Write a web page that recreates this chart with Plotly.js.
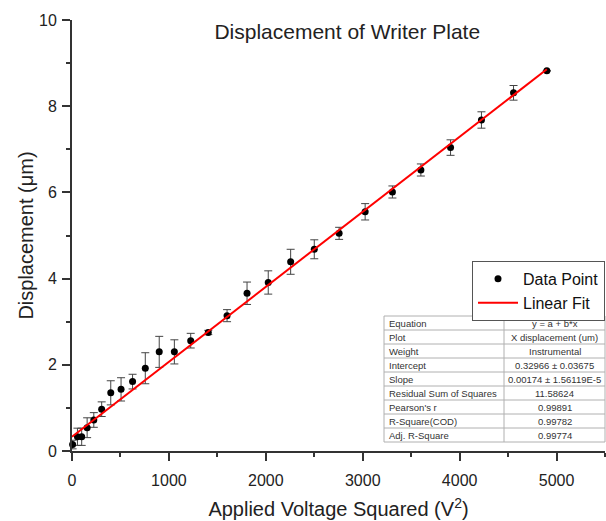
<!DOCTYPE html>
<html>
<head>
<meta charset="utf-8">
<script src="https://cdn.plot.ly/plotly-3.0.1.min.js"></script>
<style>html,body{margin:0;padding:0;background:#fff;}#chart{width:606px;height:521px;}</style>
</head>
<body>
<div id="chart"></div>
<script>
// Applied voltage squared (V^2)
const voltageSq = [6.25, 56.25, 100, 156.25, 225, 306.25, 400, 506.25, 625, 756.25, 900, 1056.25, 1225, 1406.25, 1600, 1806.25, 2025, 2256.25, 2500, 2756.25, 3025, 3306.25, 3600, 3906.25, 4225, 4556.25, 4900];
// Displacement (um)
const displacement = [0.15, 0.33, 0.33, 0.54, 0.72, 0.97, 1.35, 1.43, 1.61, 1.92, 2.30, 2.30, 2.56, 2.75, 3.14, 3.66, 3.91, 4.39, 4.68, 5.05, 5.55, 6.01, 6.52, 7.04, 7.68, 8.31, 8.82];
// Error bar half-lengths (um)
const errors = [0.10, 0.20, 0.20, 0.23, 0.17, 0.17, 0.28, 0.27, 0.17, 0.36, 0.36, 0.28, 0.17, 0.05, 0.14, 0.26, 0.27, 0.29, 0.22, 0.14, 0.19, 0.14, 0.14, 0.18, 0.19, 0.17, 0];
// Linear fit parameters (from the chart)
const fitIntercept = 0.32966;
const fitSlope = 0.00174;
const fitXRange = [0, 4900];
// Fit statistics table
const tableLabels = ["Equation", "Plot", "Weight", "Intercept", "Slope", "Residual Sum of Squares", "Pearson's r", "R-Square(COD)", "Adj. R-Square"];
const tableValues = ["y = a + b*x", "X displacement (um)", "Instrumental", "0.32966 ± 0.03675", "0.00174 ± 1.56119E-5", "11.58624", "0.99891", "0.99782", "0.99774"];
const xTicks = [0, 1000, 2000, 3000, 4000, 5000];
const yTicks = [0, 2, 4, 6, 8, 10];

const fitY = fitXRange.map(x => fitIntercept + fitSlope * x);

const W = 606, H = 521, ML = 72, MR = 1, MT = 20, MB = 70;
const PW = W - ML - MR, PH = H - MT - MB;
const px2x = p => (p - ML) / PW;
const py2y = p => (H - MB - p) / PH;

const font = 'Arial, Liberation Sans, sans-serif';

// Table geometry (pixels)
const tLeft = 384, tRight = 605, tDiv = 504, tTop = 316, rowH = 14;
const tBottom = tTop + rowH * tableLabels.length;
const shapes = [];
const annotations = [];
const gridLine = {color: '#b0b0b0', width: 1};
shapes.push({type: 'rect', xref: 'paper', yref: 'paper', x0: px2x(tLeft), x1: px2x(tRight), y0: py2y(tBottom), y1: py2y(tTop), fillcolor: '#fff', line: gridLine, layer: 'above'});
shapes.push({type: 'line', xref: 'paper', yref: 'paper', x0: px2x(tDiv), x1: px2x(tDiv), y0: py2y(tBottom), y1: py2y(tTop), line: gridLine, layer: 'above'});
for (let i = 1; i < tableLabels.length; i++) {
  const yy = py2y(tTop + rowH * i);
  shapes.push({type: 'line', xref: 'paper', yref: 'paper', x0: px2x(tLeft), x1: px2x(tRight), y0: yy, y1: yy, line: gridLine, layer: 'above'});
}
tableLabels.forEach((lab, i) => {
  const yc = py2y(tTop + rowH * i + rowH / 2);
  annotations.push({xref: 'paper', yref: 'paper', x: px2x(tLeft + 3), y: yc, xanchor: 'left', yanchor: 'middle', text: lab, showarrow: false, font: {family: font, size: 9.5, color: '#333'}});
  annotations.push({xref: 'paper', yref: 'paper', x: px2x((tDiv + tRight) / 2), y: yc, xanchor: 'center', yanchor: 'middle', text: tableValues[i], showarrow: false, font: {family: font, size: 9.5, color: '#333'}});
});

const dataTrace = {
  type: 'scatter', mode: 'markers', name: 'Data Point',
  x: voltageSq, y: displacement,
  marker: {color: '#000', size: 7},
  error_y: {type: 'data', array: errors, visible: true, color: '#444', thickness: 1, width: 4},
  cliponaxis: false
};
const fitTrace = {
  type: 'scatter', mode: 'lines', name: 'Linear Fit',
  x: fitXRange, y: fitY,
  line: {color: '#ff0000', width: 2}
};

const layout = {
  width: W, height: H,
  margin: {l: ML, r: MR, t: MT, b: MB},
  paper_bgcolor: '#fff', plot_bgcolor: '#fff',
  font: {family: font, color: '#222'},
  title: {text: 'Displacement of Writer Plate', font: {family: font, size: 21, color: '#222'}, x: 0.573, xanchor: 'center', y: 0.94, yanchor: 'middle'},
  showlegend: true,
  legend: {x: 1, xanchor: 'right', y: 0.441, yanchor: 'top', bordercolor: '#555', borderwidth: 1, bgcolor: '#fff', itemwidth: 40, font: {family: font, size: 16, color: '#111'}, tracegroupgap: 0},
  shapes: shapes,
  annotations: annotations,
  xaxis: {
    range: [0, 5500], showgrid: false, zeroline: false,
    showline: true, linecolor: '#333', linewidth: 2,
    ticks: 'outside', ticklen: 8, tickwidth: 2, tickcolor: '#333',
    tickvals: xTicks, ticktext: xTicks.map(String),
    ticklabelstandoff: 6,
    tickfont: {family: font, size: 16, color: '#222'},
    minor: {dtick: 500, ticks: 'outside', ticklen: 4, tickwidth: 2, tickcolor: '#333', showgrid: false},
    title: {text: 'Applied Voltage Squared (V<sup>2</sup>)', font: {family: font, size: 20, color: '#222'}, standoff: 14}
  },
  yaxis: {
    range: [0, 10], showgrid: false, zeroline: false,
    showline: true, linecolor: '#333', linewidth: 2,
    ticks: 'outside', ticklen: 8, tickwidth: 2, tickcolor: '#333',
    tickvals: yTicks, ticktext: yTicks.map(String),
    ticklabelstandoff: 2,
    tickfont: {family: font, size: 16, color: '#222'},
    minor: {dtick: 1, ticks: 'outside', ticklen: 4, tickwidth: 2, tickcolor: '#333', showgrid: false},
    title: {text: 'Displacement (μm)', font: {family: font, size: 20, color: '#222'}, standoff: 0}
  }
};

Plotly.newPlot('chart', [dataTrace, fitTrace], layout, {displayModeBar: false, staticPlot: true});
</script>
</body>
</html>
